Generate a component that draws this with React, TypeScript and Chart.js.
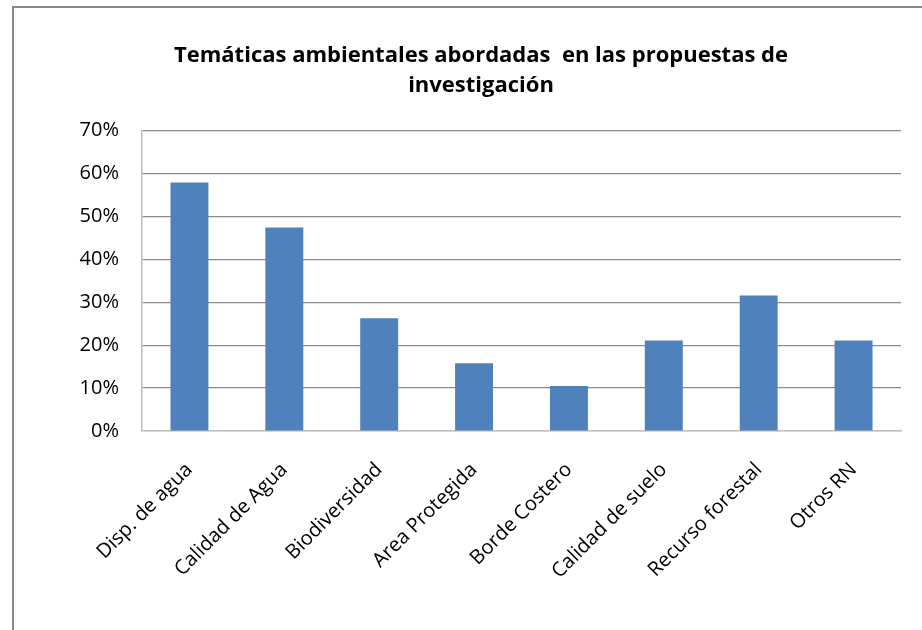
import React, { useEffect, useRef } from "react";
import { Chart, registerables } from "chart.js";

Chart.register(...registerables);

const categories = [
  "Disp. de agua",
  "Calidad de Agua",
  "Biodiversidad",
  "Area Protegida",
  "Borde Costero",
  "Calidad de suelo",
  "Recurso forestal",
  "Otros RN",
];
const values = [57.9, 47.4, 26.3, 15.8, 10.5, 21.1, 31.6, 21.1];
const titleLines = ["Temáticas ambientales abordadas  en las propuestas de", "investigación"];
const yMin = 0;
const yMax = 70;
const yStep = 10;

export default function App() {
  const ref = useRef<HTMLCanvasElement | null>(null);
  useEffect(() => {
    if (!ref.current) return;
    const font = "'Open Sans', Lato, sans-serif";
    const chart = new Chart(ref.current, {
      type: "bar",
      data: {
        labels: categories,
        datasets: [
          {
            data: values,
            backgroundColor: "#4F81BD",
            borderWidth: 0,
            barPercentage: 0.4,
            categoryPercentage: 1,
          },
        ],
      },
      options: {
        animation: false,
        responsive: false,
        layout: { padding: { left: 61, right: 21, top: 40, bottom: 0 } },
        plugins: {
          legend: { display: false },
          tooltip: { enabled: false },
          title: {
            display: true,
            text: titleLines,
            color: "#000",
            font: { family: font, size: 22, weight: "bold", lineHeight: 1.4 },
            padding: { top: 0, bottom: 29 },
          },
        },
        scales: {
          x: {
            grid: { display: false },
            border: { display: true, color: "#bfbfbf", width: 1.5 },
            ticks: {
              color: "#000",
              font: { family: font, size: 20 },
              minRotation: 45,
              maxRotation: 45,
              padding: 19,
              autoSkip: false,
            },
            afterFit: (s: any) => {
              s.height = 199;
            },
          },
          y: {
            min: yMin,
            max: yMax,
            grid: {
              color: (ctx: any) => (ctx.tick && ctx.tick.value === 0 ? "#bfbfbf" : "#8c8c8c"),
              lineWidth: 1.2,
              drawTicks: false,
            },
            border: { display: true, color: "#bfbfbf", width: 1.5 },
            ticks: {
              stepSize: yStep,
              color: "#000",
              font: { family: font, size: 20 },
              padding: 23,
              callback: (v: any) => v + "%",
            },
            afterFit: (s: any) => {
              s.width = 81;
            },
          },
        },
      },
    });
    return () => chart.destroy();
  }, []);
  return (
    <div style={{ position: "fixed", left: 0, top: 0, width: 922, height: 630, background: "#fff", overflow: "hidden" }}>
      <div
        style={{
          position: "absolute",
          left: 12,
          top: 6,
          width: 940,
          height: 660,
          border: "2px solid #888",
          boxSizing: "border-box",
        }}
      />
      <canvas ref={ref} width={922} height={630} style={{ position: "absolute", left: 0, top: 0 }} />
    </div>
  );
}
